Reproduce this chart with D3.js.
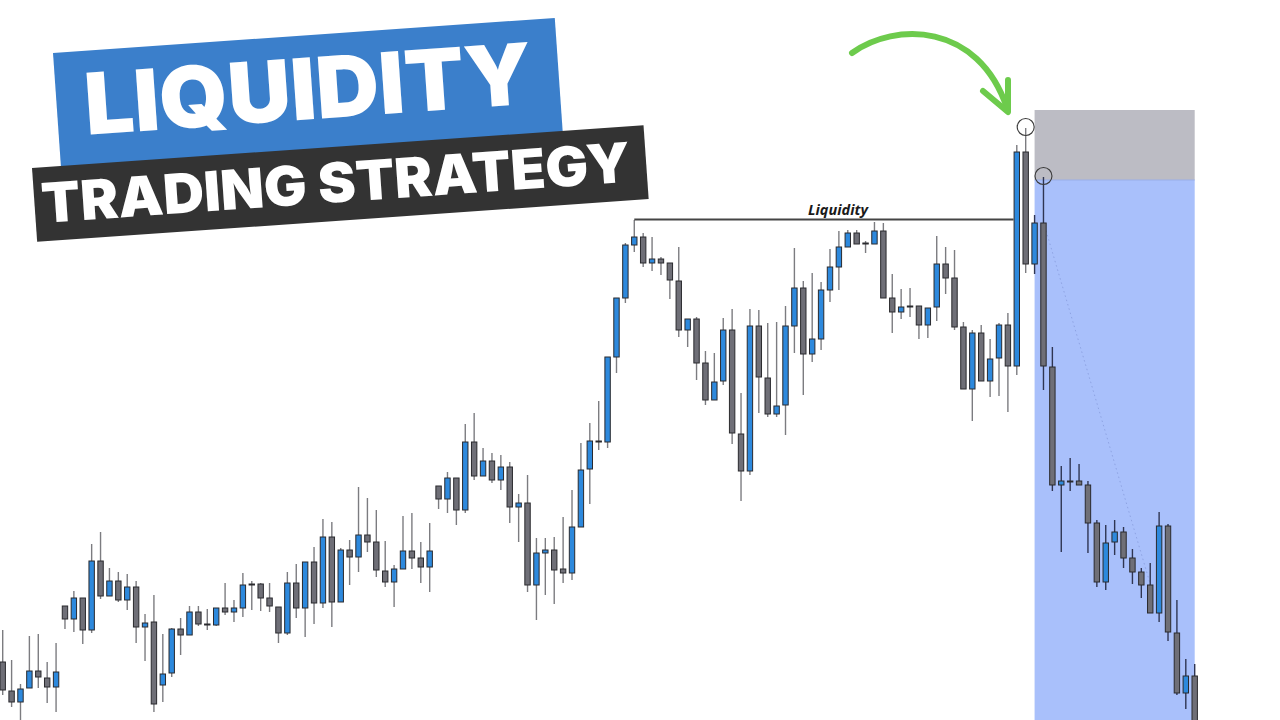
<!DOCTYPE html>
<html><head><meta charset="utf-8">
<script src="https://cdn.jsdelivr.net/npm/d3@7/dist/d3.min.js"></script>
<style>html,body{margin:0;padding:0;background:#fff;}svg{display:block;}</style>
</head><body>
<svg id="c" width="1280" height="720"></svg>
<script>
// ---- data (price in points) ----
const open = [58,29,18,32,49,42,33,114,101,122,
90,159,124,139,120,133,93,98,35,47,
91,85,108,96,95,112,108,112,136,136,
122,113,87,137,112,158,117,183,118,170,
163,185,178,149,138,151,169,162,153,234,
221,242,210,278,244,259,240,253,213,217,
135,167,170,151,147,193,251,279,278,363,
422,475,483,457,461,457,439,390,401,357,
320,339,390,286,249,394,342,306,315,394,
432,366,381,430,453,473,487,477,476,489,
422,408,414,414,395,413,456,442,393,331,
387,339,362,395,354,568,456,497,353,235,
239,239,235,197,138,178,188,162,148,135,
107,194,87,27,44];
const high = [90,60,36,84,86,58,77,114,129,122,
176,188,152,148,146,139,106,125,86,92,
102,114,114,111,112,137,120,147,139,137,
137,113,148,156,158,173,201,198,172,180,
233,222,210,179,155,204,207,178,197,234,
248,242,296,307,272,267,265,258,226,245,
182,182,183,203,230,277,297,319,363,422,
477,500,487,483,463,457,473,401,403,369,
367,402,411,327,411,410,397,398,414,472,
439,447,438,471,489,490,490,479,498,497,
446,431,432,414,412,484,473,470,398,390,
395,381,397,407,575,592,505,543,373,254,
262,256,239,200,195,200,193,171,152,157,
208,196,120,61,56];
const low = [25,13,0,32,32,17,8,91,88,76,
87,121,124,118,110,77,59,8,18,43,
65,85,94,90,94,105,98,103,110,109,
108,77,85,102,83,96,112,93,118,135,
148,168,143,133,113,151,151,137,128,211,
207,195,207,240,244,237,230,197,178,128,
100,125,116,137,140,193,216,270,272,347,
417,468,453,449,445,421,383,373,340,315,
320,335,276,219,245,307,303,303,285,367,
325,358,370,418,430,473,476,467,476,422,
387,401,403,381,382,399,426,390,331,299,
339,323,324,308,345,447,446,330,229,168,
229,235,167,133,130,165,152,136,122,107,
98,79,25,11,-25];
const close = [30,18,31,49,43,33,48,101,122,90,
159,124,139,120,133,93,97,16,46,91,
85,108,96,95,112,108,112,135,135,122,
114,87,137,112,158,117,183,118,170,163,
185,178,150,138,151,169,162,153,169,221,
242,210,278,244,259,240,253,213,217,135,
167,170,150,147,193,250,279,278,363,422,
475,483,457,461,457,440,390,401,357,320,
338,390,287,249,394,343,306,314,394,432,
366,381,430,453,473,487,476,476,489,422,
408,413,413,395,412,456,442,393,331,387,
339,361,395,354,568,456,497,354,235,239,
238,235,197,138,177,188,162,148,135,107,
194,88,27,44,-20];

// annotations
const titleLine1 = "LIQUIDITY";
const titleLine2 = "TRADING STRATEGY";
const liquidityLabel = "Liquidity";
const liquidityLevel = [71, 114, 500.5];      // from candle, to candle, price
const sweptHighs = [115, 117];                 // candles whose highs are circled
const zoneRange = [116, 134];                  // candle span of the trade box
const zoneLevels = [610, 540, 0];              // stop, entry, target
const pathLine = [[117, 498], [129, 136]];     // dotted projection

// ---- scales ----
const W = 1280, H = 720;
const x = d3.scaleLinear().domain([0, open.length - 1]).range([2.7, 1194.7]);
const y = d3.scaleLinear().domain([0, 720]).range([720, 0]);
const svg = d3.select("#c");
svg.append("rect").attr("width", W).attr("height", H).attr("fill", "#fff");

const candles = open.map((o, i) => ({i, o, h: high[i], l: low[i], c: close[i]}));

// trade zone
const zx0 = x(zoneRange[0]), zx1 = x(zoneRange[1]);
svg.append("rect").attr("x", zx0).attr("y", y(zoneLevels[0]))
  .attr("width", zx1 - zx0).attr("height", y(zoneLevels[1]) - y(zoneLevels[0]))
  .attr("fill", "#bcbcc4");
svg.append("rect").attr("x", zx0).attr("y", y(zoneLevels[1]))
  .attr("width", zx1 - zx0).attr("height", y(zoneLevels[2]) - y(zoneLevels[1]))
  .attr("fill", "#a9c0fb");
svg.append("line").attr("x1", zx0).attr("x2", zx1)
  .attr("y1", y(zoneLevels[1])).attr("y2", y(zoneLevels[1]))
  .attr("stroke", "#9aaee8").attr("stroke-width", 1);

// dotted projection
svg.append("line")
  .attr("x1", x(pathLine[0][0])).attr("y1", y(pathLine[0][1]))
  .attr("x2", x(pathLine[1][0])).attr("y2", y(pathLine[1][1]))
  .attr("stroke", "#8ea3e3").attr("stroke-width", 1).attr("stroke-dasharray", "1.5,3");

// candles
const bw = 5.4;
const g = svg.append("g");
g.selectAll("line.w").data(candles).join("line").attr("class", "w")
  .attr("x1", d => x(d.i)).attr("x2", d => x(d.i))
  .attr("y1", d => y(d.h)).attr("y2", d => y(d.l))
  .attr("stroke", d => d.i >= zoneRange[0] ? "#2f3552" : "#7c7c80")
  .attr("stroke-width", 1.4);
g.selectAll("rect.b").data(candles).join("rect").attr("class", "b")
  .attr("x", d => x(d.i) - bw / 2)
  .attr("y", d => y(Math.max(d.o, d.c)))
  .attr("width", bw)
  .attr("height", d => Math.max(1, Math.abs(y(d.o) - y(d.c))))
  .attr("fill", d => d.c > d.o ? "#2d89dd" : "#6f6f77")
  .attr("stroke", "#2a2a2e").attr("stroke-width", 1);

// liquidity line and label
const lx0 = x(liquidityLevel[0]), lx1 = x(liquidityLevel[1]) - bw / 2 - 0.5;
svg.append("line").attr("x1", lx0).attr("x2", lx1)
  .attr("y1", y(liquidityLevel[2])).attr("y2", y(liquidityLevel[2]))
  .attr("stroke", "#444").attr("stroke-width", 2);
svg.append("text").attr("x", 838).attr("y", y(liquidityLevel[2]) - 5)
  .attr("text-anchor", "middle")
  .attr("font-family", "'Open Sans', sans-serif").attr("font-weight", 700)
  .attr("font-style", "italic").attr("font-size", 14.5).attr("fill", "#1a1a1a")
  .text(liquidityLabel);

// circles on swept highs
sweptHighs.forEach(i => {
  svg.append("circle").attr("cx", x(i)).attr("cy", y(high[i]) - 1).attr("r", 8.5)
    .attr("fill", "none").attr("stroke", "#3a3a3a").attr("stroke-width", 1.1);
});

// green arrow
const arrow = svg.append("g").attr("fill", "none").attr("stroke", "#6dcb4c")
  .attr("stroke-width", 6).attr("stroke-linecap", "round").attr("stroke-linejoin", "round");
arrow.append("path").attr("d", "M852,53 C895,22 978,22 1007,108");
arrow.append("path").attr("d", "M983,91 L1008,112 L1008,80");

// title blocks
const t1 = svg.append("g").attr("transform", "translate(53,53) rotate(-4)");
t1.append("rect").attr("width", 503).attr("height", 116).attr("fill", "#3b7fcb");
t1.append("text").attr("x", 252).attr("y", 84).attr("text-anchor", "middle")
  .attr("font-family", "Inter, Roboto, sans-serif").attr("font-weight", 900)
  .attr("font-size", 85).attr("fill", "#fff")
  .attr("textLength", 448).attr("lengthAdjust", "spacingAndGlyphs")
  .text(titleLine1);
const t2 = svg.append("g").attr("transform", "translate(32,168) rotate(-4)");
t2.append("rect").attr("width", 613).attr("height", 74).attr("fill", "#333333");
t2.append("text").attr("x", 302).attr("y", 55.5).attr("text-anchor", "middle")
  .attr("font-family", "Inter, Roboto, sans-serif").attr("font-weight", 900)
  .attr("font-size", 55).attr("fill", "#fff")
  .attr("textLength", 590).attr("lengthAdjust", "spacingAndGlyphs")
  .text(titleLine2);
</script>
</body></html>
